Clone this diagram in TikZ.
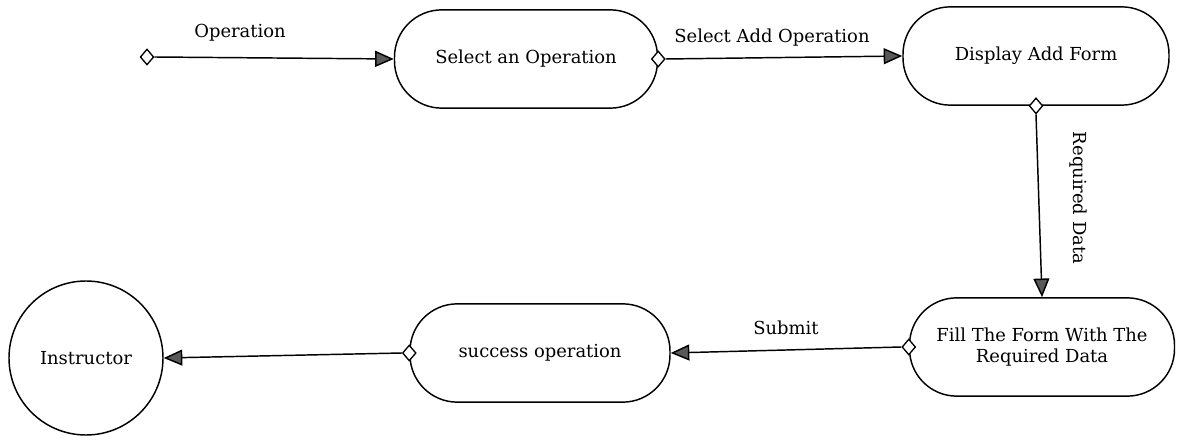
\documentclass[tikz,border=0pt]{standalone}
\usepackage{fontspec}
\setmainfont{DejaVu Serif}
\usetikzlibrary{arrows.meta,shapes.geometric}
\begin{document}
\begin{tikzpicture}[x=0.02646cm,y=-0.02646cm,
  every node/.style={font=\fontsize{13.5}{16}\selectfont},
  act/.style={draw, line width=1.1pt, rounded corners=1.25cm, minimum width=#1*0.02646cm, minimum height=2.6cm, align=center, inner sep=0pt},
  act/.default=263,
  joint/.style={draw, line width=1pt, diamond, fill=white, inner sep=0pt, minimum width=0.36cm, minimum height=0.42cm},
  flow/.style={line width=1.1pt, -{Triangle[length=14pt,width=12pt,fill=black!65]}},
  lbl/.style={inner sep=0pt}
]
\useasboundingbox[fill=white] (0,0) rectangle (1182,440);

\node[act=263] (sel) at (526,59) {Select an Operation};
\node[act=266] (disp) at (1036,56) {Display Add Form};
\node[act=265] (fill) at (1042,347) {Fill The Form With The\\Required Data};
\node[act=260] (succ) at (540,353) {success operation};
\node[draw, line width=1.1pt, circle, minimum size=154*0.02646cm, inner sep=0pt] (instr) at (86,358) {Instructor};

\node[joint] (start) at (147,57) {};
\node[joint] (j1) at (sel.east) {};
\node[joint] (j2) at (disp.south) {};
\node[joint] (j3) at (fill.west) {};
\node[joint] (j4) at (succ.west) {};

\draw[flow] (start.east) -- (sel.west);
\draw[flow] (j1.east) -- (disp.west);
\draw[flow] (j2.south) -- (fill.north);
\draw[flow] (j3.west) -- (succ.east);
\draw[flow] (j4.west) -- (instr.east);

\node[lbl] (l1) at (240,33) {Operation};
\node[lbl] (l2) at (772,38) {Select Add Operation};
\node[lbl, rotate=-90] (l3) at (1078,198) {Required Data};
\node[lbl] (l4) at (786,328) {Submit};
\end{tikzpicture}
\end{document}
